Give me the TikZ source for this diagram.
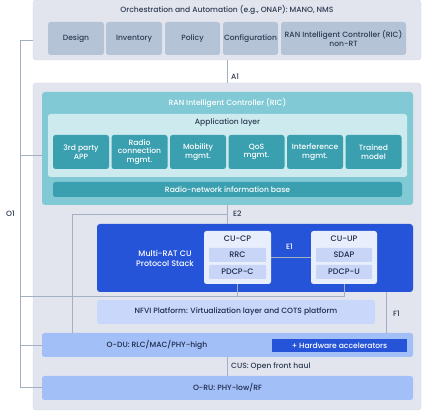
\documentclass[tikz,border=0pt]{standalone}
\usepackage{fontspec}
\setmainfont{Poppins Medium}
\definecolor{panel}{HTML}{E2E5EE}
\definecolor{panelline}{HTML}{D3D8E2}
\definecolor{orchblock}{HTML}{B5C3D7}
\definecolor{darktext}{HTML}{2E3B52}
\definecolor{ricteal}{HTML}{80C9D5}
\definecolor{applight}{HTML}{CDEBEF}
\definecolor{tealdark}{HTML}{3A9FAE}
\definecolor{ranblue}{HTML}{2654D8}
\definecolor{cupale}{HTML}{E8EEFC}
\definecolor{cuinner}{HTML}{C8D5F7}
\definecolor{nfvi}{HTML}{C9D7FB}
\definecolor{duru}{HTML}{A2BFF8}
\definecolor{linegray}{HTML}{A3AFC3}
\definecolor{navytext}{HTML}{1E2A4A}

\begin{document}
\begin{tikzpicture}[x=1pt, y=-1pt,
    every node/.style={font=\fontsize{7.6}{8.6}\selectfont},
    panel/.style={fill=panel, draw=panelline, line width=0.4pt, rounded corners=3pt},
    orchbox/.style={fill=orchblock, text=darktext, rounded corners=2.5pt, minimum height=33pt, inner sep=1pt, align=center},
    appbox/.style={fill=tealdark, text=white, rounded corners=2.5pt, minimum width=56pt, minimum height=34pt, inner sep=1pt, align=center},
    cubox/.style={fill=cupale, rounded corners=2.5pt, minimum height=53pt},
    layer/.style={fill=cuinner, text=navytext, rounded corners=1pt, minimum height=14pt, inner sep=0pt, font=\fontsize{8}{9}\selectfont},
    ranbox/.style={fill=duru, rounded corners=2.5pt, minimum width=371pt, minimum height=24pt},
    link/.style={draw=linegray, line width=0.8pt},
    tag/.style={text=darktext, anchor=west, inner sep=1pt}
  ]
  \useasboundingbox (0,0) rectangle (423,411);

  \node[panel, minimum width=388pt, minimum height=60pt] (orch) at (227,30) {};
  \node[text=darktext] (orchtitle) at (227,10) {Orchestration and Automation (e.g., ONAP): MANO, NMS};
  \node[orchbox, minimum width=56pt] (design) at (76,38.5) {Design};
  \node[orchbox, minimum width=56pt] (inventory) at (134,38.5) {Inventory};
  \node[orchbox, minimum width=55pt] (policy) at (192.5,38.5) {Policy};
  \node[orchbox, minimum width=55pt] (config) at (250.5,38.5) {Configuration};
  \node[orchbox, minimum width=125pt] (nonrt) at (343.5,38.5) {RAN Intelligent Controller (RIC)\\non-RT};

  \node[panel, minimum width=388pt, minimum height=327pt] (big) at (227,246.5) {};

  \node[fill=ricteal, rounded corners=3pt, minimum width=371pt, minimum height=113pt] (ric) at (227.5,148.5) {};
  \node[text=white] (rictitle) at (227.5,103) {RAN Intelligent Controller (RIC)};
  \node[fill=applight, rounded corners=2.5pt, minimum width=359pt, minimum height=63pt] (applayer) at (227.5,145.5) {};
  \node[text=darktext] (apptitle) at (227.5,123) {Application layer};
  \foreach \txt [count=\i from 0] in {3rd party\\APP, Radio\\connection\\mgmt., Mobility\\mgmt., QoS\\mgmt., Interference\\mgmt., Trained\\model}
    \node[appbox] (app\i) at (81+58.5*\i,152) {\txt};
  \node[fill=tealdark, text=white, rounded corners=2.5pt, minimum width=349pt, minimum height=15pt, inner sep=0pt] (rnib) at (227.5,189.5) {Radio-network information base};

  \node[fill=ranblue, rounded corners=3pt, minimum width=316pt, minimum height=68pt] (cu) at (255,258) {};
  \node[text=white, align=center, font=\fontsize{8}{10}\selectfont] (cutitle) at (165,258) {Multi-RAT CU\\Protocol Stack};
  \node[cubox, minimum width=67pt] (cucp) at (237.5,257.5) {};
  \node[text=navytext, font=\fontsize{8}{9}\selectfont] (cucptitle) at (237.5,239) {CU-CP};
  \node[layer, minimum width=57pt] (rrc) at (237.5,255) {RRC};
  \node[layer, minimum width=57pt] (pdcpc) at (237.5,272) {PDCP-C};
  \node[cubox, minimum width=66pt] (cuup) at (344,257.5) {};
  \node[text=navytext, font=\fontsize{8}{9}\selectfont] (cuuptitle) at (344,239) {CU-UP};
  \node[layer, minimum width=56pt] (sdap) at (344,255) {SDAP};
  \node[layer, minimum width=56pt] (pdcpu) at (344,272) {PDCP-U};

  \node[fill=nfvi, text=navytext, rounded corners=2.5pt, minimum width=278pt, minimum height=24pt] (nfvi) at (236,312) {NFVI Platform: Virtualization layer and COTS platform};

  \node[ranbox] (odu) at (227.5,345) {};
  \node[text=navytext] (odutitle) at (157,345) {O-DU: RLC/MAC/PHY-high};
  \node[fill=ranblue, text=white, minimum width=135pt, minimum height=13pt, inner sep=0pt] (hwacc) at (339.5,345.5) {+ Hardware accelerators};
  \node[ranbox, text=navytext] (oru) at (227.5,388) {O-RU: PHY-low/RF};

  \coordinate (o1top) at (20,40);
  \coordinate (o1bot) at (20,387);
  \coordinate (cubus) at (20,296);
  \coordinate (e2) at (72,214);
  \coordinate (f1) at (386,292);

  \draw[link] ([yshift=-10pt]orch.west) -- (o1top) -- (o1bot) -- (oru.west |- o1bot);
  \draw[link] ([yshift=-6.5pt]ric.west) -- ([yshift=-6.5pt]ric.west -| o1top);
  \draw[link] (odu.west) -- (odu.west -| o1top);
  \draw[link] (cucp.south) |- (cubus);
  \draw[link] (cuup.south) |- (cucp.south |- cubus);
  \draw[link] (orch.south) -- (big.north);
  \draw[link] (ric.south) -- (ric.south |- cu.north);
  \draw[link] (ric.south |- e2) -- (e2) -- (e2 |- odu.north);
  \draw[link] (cucp.east) -- (cuup.west);
  \draw[link] (f1) -- (f1 |- odu.north);
  \draw[link] (odu.south) -- (oru.north);

  \node[tag] (a1) at (230,77) {A1};
  \node[tag] (e2tag) at (232,214) {E2};
  \node[tag, text=white] (e1) at (285,247) {E1};
  \node[tag] (f1tag) at (392,314) {F1};
  \node[tag] (cus) at (230,367) {CUS: Open front haul};
  \node[tag] (o1) at (5,214) {O1};
\end{tikzpicture}
\end{document}
